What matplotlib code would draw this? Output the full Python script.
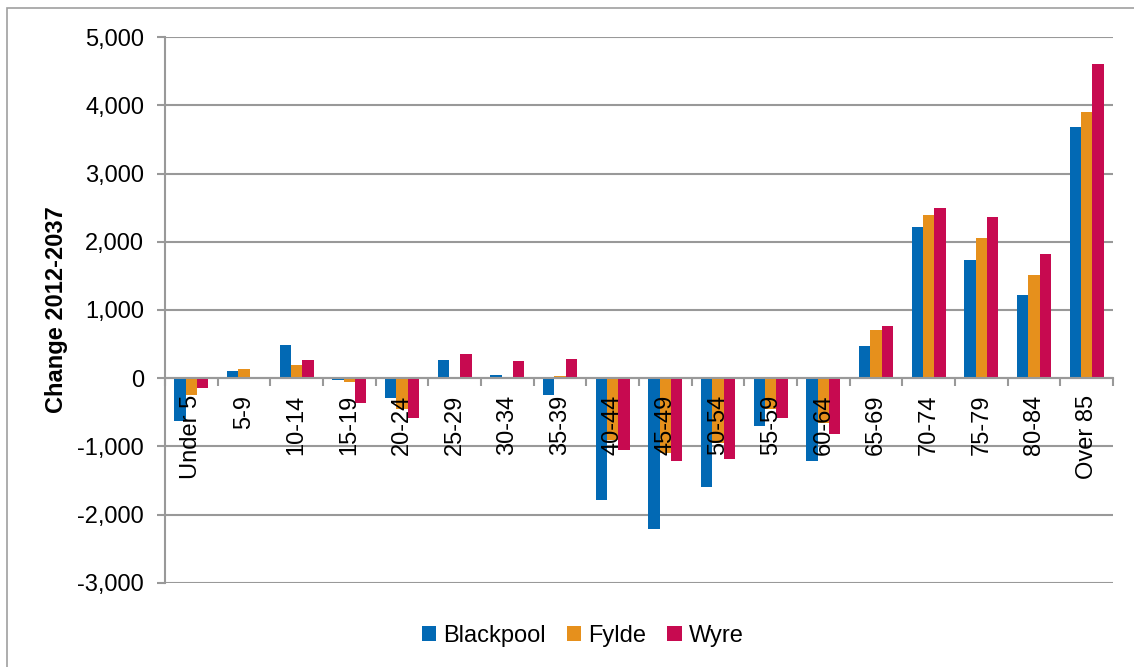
import numpy as np
import matplotlib
matplotlib.use('Agg')
import matplotlib.pyplot as plt
from matplotlib.patches import Rectangle
from matplotlib.ticker import FuncFormatter, FixedLocator

plt.rcParams['font.family'] = ['Liberation Sans', 'DejaVu Sans']

# 연령대
ages = ['Under 5', '5-9', '10-14', '15-19', '20-24', '25-29', '30-34', '35-39',
        '40-44', '45-49', '50-54', '55-59', '60-64', '65-69', '70-74', '75-79',
        '80-84', 'Over 85']

blackpool = [-620, 107, 483, -29, -283, 268, 44, -244,
             -1786, -2215, -1596, -698, -1210, 478, 2210, 1726, 1222, 3687]
fylde = [-244, 132, 195, -59, -449, 0, 10, 29,
         -900, -1100, -950, -450, -650, 703, 2386, 2059, 1516, 3907]
wyre = [-137, 20, 268, -356, -586, 356, 254, 283,
        -1049, -1210, -1181, -586, -810, 766, 2489, 2367, 1819, 4606]

series = [('Blackpool', blackpool, '#0269B4'),
          ('Fylde', fylde, '#E6901C'),
          ('Wyre', wyre, '#C70A50')]

fig = plt.figure(figsize=(11.34, 6.67), dpi=100)
ax = fig.add_axes([0.1455, 0.126, 0.836, 0.8185])

# 바깥 테두리
fig.patches.append(Rectangle((7/1134, -0.1), 1.2, 1 - 8/667 + 0.1,
                             transform=fig.transFigure, fill=False,
                             edgecolor='#a0a0a0', linewidth=1.2))

x = np.arange(len(ages))
w = 0.217
for i, (name, vals, col) in enumerate(series):
    ax.bar(x + (i - 1) * w, vals, w, color=col, label=name, zorder=2)

ax.set_xlim(-0.5, len(ages) - 0.5)
ax.set_ylim(-3000, 5000)
ax.set_yticks(np.arange(-3000, 5001, 1000))
ax.yaxis.set_major_formatter(FuncFormatter(lambda v, p: '{:,.0f}'.format(v)))
ax.grid(axis='y', color='#999999', linewidth=1.5)
ax.yaxis.set_zorder(0.5)
ax.xaxis.set_zorder(5)

ax.spines['bottom'].set_position(('data', 0))
for s in ['top', 'right']:
    ax.spines[s].set_visible(False)
for s in ['left', 'bottom']:
    ax.spines[s].set_color('#999999')
    ax.spines[s].set_linewidth(1.5)
    ax.spines[s].set_zorder(4)

ax.set_xticks(x)
ax.set_xticklabels(ages, rotation=90, fontsize=17)
ax.xaxis.set_minor_locator(FixedLocator(np.arange(-0.5, len(ages), 1)))
ax.tick_params(axis='x', which='major', length=0, pad=12)
ax.tick_params(axis='x', which='minor', length=6, width=1.5, color='#999999')
ax.tick_params(axis='y', length=6, width=1.5, color='#999999', labelsize=17, pad=9)

ax.set_ylabel('Change 2012-2037', fontsize=17, fontweight='bold', labelpad=7)

ax.legend(loc='upper center', bbox_to_anchor=(0.4405, -0.038), ncol=3, frameon=False,
          fontsize=17, handlelength=0.6, handleheight=0.6, handletextpad=0.3,
          columnspacing=0.9)

fig.savefig('out.png', dpi=100)
